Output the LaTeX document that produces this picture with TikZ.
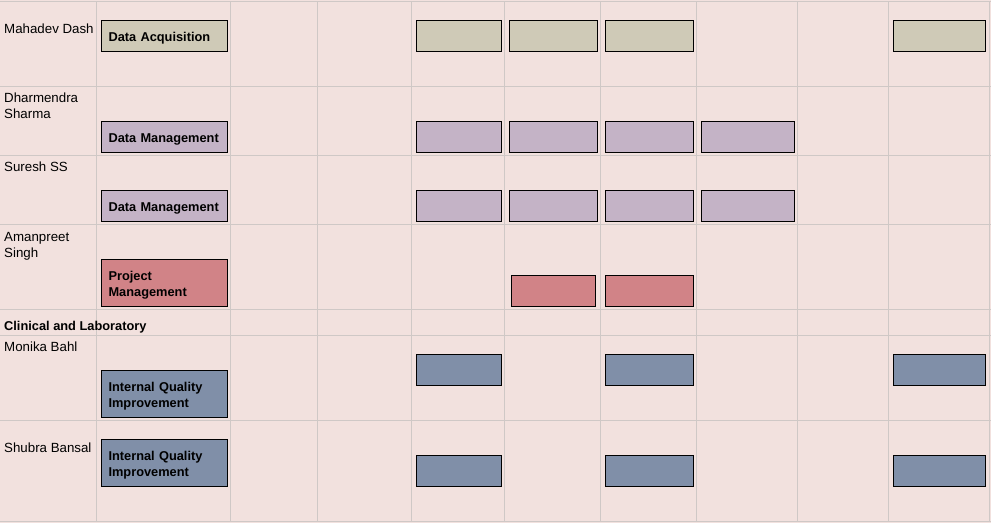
\documentclass[tikz,border=0pt]{standalone}
\usepackage{fontspec}
\setmainfont{Liberation Sans}
\usetikzlibrary{positioning}

\definecolor{sheet}{HTML}{F2E1DE}
\definecolor{gridline}{HTML}{CFC8C6}
\definecolor{acq}{HTML}{CFCAB7}
\definecolor{dman}{HTML}{C4B3C6}
\definecolor{pman}{HTML}{D18387}
\definecolor{iqi}{HTML}{808FA8}

\tikzset{
  cell/.style={draw=gridline, line width=1pt},
  who/.style={anchor=north west, inner sep=0pt, align=left, font=\fontsize{13.3}{16}\selectfont},
  bar/.style={draw=black, line width=1.1pt, rectangle, anchor=north west, inner sep=0pt,
    minimum height=31pt},
  task/.style={bar, minimum width=126pt, text width=112pt, align=left, text height=13pt,
    font=\bfseries\fontsize{12.8}{16}\selectfont},
}

\begin{document}
\begin{tikzpicture}[x=1pt,y=-1pt]
    \useasboundingbox (0,0) rectangle (991,523);
    \fill[sheet] (0,0) rectangle (991,523);

    % grid
    \foreach \x in {96,230,317,411,504,600,696,797,888,989} {
      \draw[cell] (\x,1.5) -- (\x,522);
    }
    \foreach \y in {1.5,86,155,224,309,335,420,521.5} {
      \draw[cell] (0,\y) -- (991,\y);
    }

    % people
    \node[who] at (4,24) (p1) {Mahadev Dash};
    \node[who] at (4,93) (p2) {Dharmendra\\Sharma};
    \node[who] at (4,162) (p3) {Suresh SS};
    \node[who] at (4,232) (p4) {Amanpreet\\Singh};
    \node[who,font=\bfseries\fontsize{12.8}{16}\selectfont] at (4,321) (grp) {Clinical and Laboratory};
    \node[who] at (4,342) (p5) {Monika Bahl};
    \node[who] at (4,443) (p6) {Shubra Bansal};

    % tasks
    \node[task,fill=acq] at (101,20) (t1) {Data Acquisition};
    \node[task,fill=dman] at (101,121) (t2) {Data Management};
    \node[task,fill=dman] at (101,190) (t3) {Data Management};
    \node[task,fill=pman,minimum height=47pt] at (101,259) (t4) {Project\\Management};
    \node[task,fill=iqi,minimum height=47pt] at (101,370) (t5) {Internal Quality\\Improvement};
    \node[task,fill=iqi,minimum height=47pt] at (101,439) (t6) {Internal Quality\\Improvement};

    % bars
    \foreach \x/\w [count=\i] in {416/85,509/88,605/88,893/92} {
      \node[bar,fill=acq,minimum width=\w] at (\x,20) (a\i) {};
    }
    \foreach \x/\w [count=\i] in {416/85,509/88,605/88,701/93} {
      \node[bar,fill=dman,minimum width=\w] at (\x,121) (b\i) {};
      \node[bar,fill=dman,minimum width=\w] at (\x,190) (c\i) {};
    }
    \foreach \x/\w [count=\i] in {511/84,605/88} {
      \node[bar,fill=pman,minimum width=\w] at (\x,275) (d\i) {};
    }
    \foreach \x/\w [count=\i] in {416/85,605/88,893/92} {
      \node[bar,fill=iqi,minimum width=\w] at (\x,354) (e\i) {};
      \node[bar,fill=iqi,minimum width=\w] at (\x,455) (f\i) {};
    }
\end{tikzpicture}
\end{document}
